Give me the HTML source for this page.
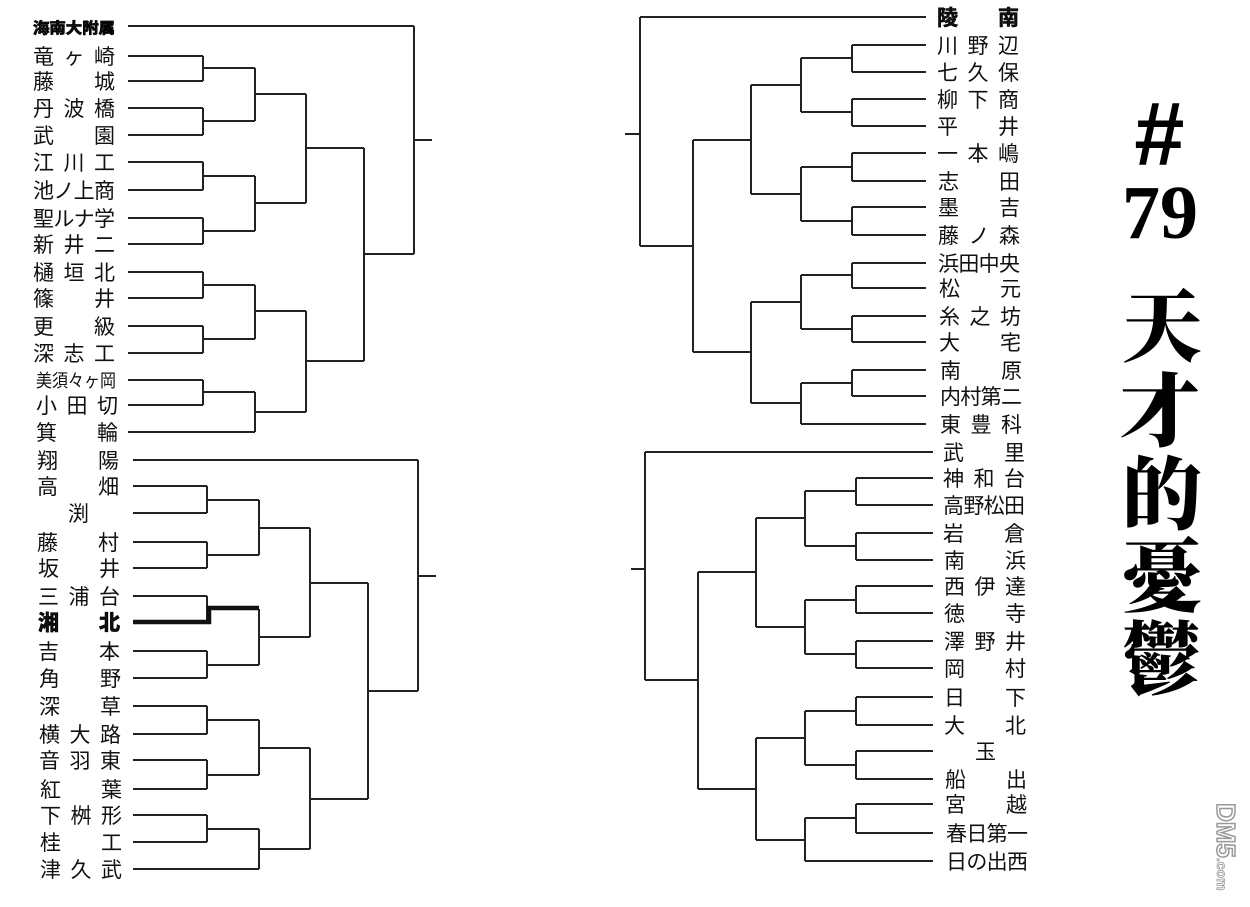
<!DOCTYPE html>
<html><head><meta charset="utf-8"><style>
html,body{margin:0;padding:0;background:#fff}
svg{display:block}
.n{font-family:"Liberation Sans","Noto Sans CJK JP",sans-serif;font-size:21px;fill:#111}
.t{font-family:"Liberation Serif","Noto Serif CJK SC",serif;font-weight:900;fill:#000}
</style></head><body>
<svg width="1250" height="907" viewBox="0 0 1250 907" xmlns="http://www.w3.org/2000/svg">
<rect width="1250" height="907" fill="#fff"/>
<g fill="none" stroke="#222" stroke-width="2">
<path d="M128 56H203M128 81H203M128 108H203M128 135H203M128 162H203M128 190H203M128 218H203M128 244H203M128 272H203M128 298H203M128 326H203M128 353H203M128 380H203M128 405H203M128 432H255M128 26H414
M203 56V81M203 68H255M203 108V135M203 121H255M203 162V190M203 176H255M203 218V244M203 231H255M203 272V298M203 285H255M203 326V353M203 339H255M203 380V405M203 392H255
M255 68V121M255 94H306M255 176V231M255 203H306M255 285V339M255 311H306M255 392V432M255 412H306
M306 94V203M306 148H364M306 311V412M306 361H364
M364 148V361M364 254H414M414 26V254M414 140H432"/>
<path d="M133 460H418M133 486H207M133 513H207M133 542H207M133 568H207M133 596H207M133 651H207M133 678H207M133 706H207M133 734H207M133 760H207M133 789H207M133 815H207M133 842H207M133 869H259
M207 486V513M207 500H259M207 542V568M207 555H259M207 596V622M207 651V678M207 665H259M207 706V734M207 720H259M207 760V789M207 775H259M207 815V842M207 829H259
M259 500V555M259 528H310M259 609V665M259 637H310M259 720V775M259 748H310M259 829V869M259 849H310
M310 528V637M310 583H368M310 748V849M310 799H368
M368 583V799M368 691H418M418 460V691M418 576H436"/>
<path d="M133 622H209V608H259" stroke-width="4.5" stroke="#111"/>
<path d="M926 17H640M926 45H852M926 72H852M926 99H852M926 126H852M926 153H852M926 181H852M926 207H852M926 235H852M926 263H852M926 288H852M926 316H852M926 342H852M926 370H852M926 396H852M926 424H801
M852 45V72M852 58H801M852 99V126M852 112H801M852 153V181M852 167H801M852 207V235M852 221H801M852 263V288M852 275H801M852 316V342M852 329H801M852 370V396M852 383H801
M801 58V112M801 85H751M801 167V221M801 194H751M801 275V329M801 302H751M801 383V424M801 403H751
M751 85V194M751 140H693M751 302V403M751 352H693
M693 140V352M693 246H640M640 17V246M640 134H625"/>
<path d="M933 452H645M933 478H856M933 505H856M933 533H856M933 560H856M933 586H856M933 613H856M933 641H856M933 668H856M933 697H856M933 725H856M933 751H856M933 779H856M933 804H856M933 833H856M933 861H805
M856 478V505M856 491H805M856 533V560M856 546H805M856 586V613M856 600H805M856 641V668M856 654H805M856 697V725M856 711H805M856 751V779M856 765H805M856 804V833M856 818H805
M805 491V546M805 518H756M805 600V654M805 627H756M805 711V765M805 738H756M805 818V861M805 840H756
M756 518V627M756 572H698M756 738V840M756 789H698
M698 572V789M698 680H645M645 452V680M645 569H631"/>
</g>
<g class="n">
<text x="33" y="33" font-size="15" font-weight="bold" textLength="82" lengthAdjust="spacingAndGlyphs" stroke="#000" stroke-width="0.8">海南大附属</text>
<text x="33" y="64" textLength="82" lengthAdjust="spacing">竜ヶ崎</text>
<text x="33" y="89" textLength="82" lengthAdjust="spacing">藤　城</text>
<text x="33" y="116" textLength="82" lengthAdjust="spacing">丹波橋</text>
<text x="33" y="143" textLength="82" lengthAdjust="spacing">武　園</text>
<text x="33" y="170" textLength="82" lengthAdjust="spacing">江川工</text>
<text x="33" y="198" textLength="82" lengthAdjust="spacing">池ノ上商</text>
<text x="33" y="226" textLength="82" lengthAdjust="spacing">聖ルナ学</text>
<text x="33" y="252" textLength="82" lengthAdjust="spacing">新井二</text>
<text x="33" y="280" textLength="82" lengthAdjust="spacing">樋垣北</text>
<text x="33" y="306" textLength="82" lengthAdjust="spacing">篠　井</text>
<text x="33" y="334" textLength="82" lengthAdjust="spacing">更　級</text>
<text x="33" y="361" textLength="82" lengthAdjust="spacing">深志工</text>
<text x="36" y="387" font-size="18" textLength="80" lengthAdjust="spacingAndGlyphs">美須々ヶ岡</text>
<text x="36" y="413" textLength="82" lengthAdjust="spacing">小田切</text>
<text x="36" y="440" textLength="82" lengthAdjust="spacing">箕　輪</text>

<text x="37" y="468" textLength="82" lengthAdjust="spacing">翔　陽</text>
<text x="37" y="494" textLength="82" lengthAdjust="spacing">高　畑</text>
<text x="68" y="521">渕</text>
<text x="37" y="550" textLength="82" lengthAdjust="spacing">藤　村</text>
<text x="38" y="576" textLength="82" lengthAdjust="spacing">坂　井</text>
<text x="38" y="604" textLength="82" lengthAdjust="spacing">三浦台</text>
<text x="38" y="630" textLength="82" lengthAdjust="spacing" font-weight="bold" stroke="#000" stroke-width="0.8">湘　北</text>
<text x="38" y="659" textLength="82" lengthAdjust="spacing">吉　本</text>
<text x="39" y="686" textLength="82" lengthAdjust="spacing">角　野</text>
<text x="39" y="714" textLength="82" lengthAdjust="spacing">深　草</text>
<text x="39" y="742" textLength="82" lengthAdjust="spacing">横大路</text>
<text x="39" y="768" textLength="82" lengthAdjust="spacing">音羽東</text>
<text x="40" y="797" textLength="82" lengthAdjust="spacing">紅　葉</text>
<text x="40" y="823" textLength="82" lengthAdjust="spacing">下桝形</text>
<text x="40" y="850" textLength="82" lengthAdjust="spacing">桂　工</text>
<text x="40" y="877" textLength="82" lengthAdjust="spacing">津久武</text>

<text x="937" y="25" textLength="82" lengthAdjust="spacing" font-weight="bold" stroke="#000" stroke-width="0.6">陵　南</text>
<text x="937" y="53" textLength="82" lengthAdjust="spacing">川野辺</text>
<text x="937" y="80" textLength="82" lengthAdjust="spacing">七久保</text>
<text x="937" y="107" textLength="82" lengthAdjust="spacing">柳下商</text>
<text x="937" y="134" textLength="82" lengthAdjust="spacing">平　井</text>
<text x="937" y="161" textLength="82" lengthAdjust="spacing">一本嶋</text>
<text x="938" y="189" textLength="82" lengthAdjust="spacing">志　田</text>
<text x="938" y="215" textLength="82" lengthAdjust="spacing">墨　吉</text>
<text x="938" y="243" textLength="82" lengthAdjust="spacing">藤ノ森</text>
<text x="938" y="271" textLength="82" lengthAdjust="spacing">浜田中央</text>
<text x="939" y="296" textLength="82" lengthAdjust="spacing">松　元</text>
<text x="939" y="324" textLength="82" lengthAdjust="spacing">糸之坊</text>
<text x="939" y="350" textLength="82" lengthAdjust="spacing">大　宅</text>
<text x="940" y="378" textLength="82" lengthAdjust="spacing">南　原</text>
<text x="940" y="404" textLength="82" lengthAdjust="spacing">内村第二</text>
<text x="940" y="432" textLength="82" lengthAdjust="spacing">東豊科</text>

<text x="943" y="460" textLength="82" lengthAdjust="spacing">武　里</text>
<text x="943" y="486" textLength="82" lengthAdjust="spacing">神和台</text>
<text x="943" y="513" textLength="82" lengthAdjust="spacing">高野松田</text>
<text x="943" y="541" textLength="82" lengthAdjust="spacing">岩　倉</text>
<text x="944" y="568" textLength="82" lengthAdjust="spacing">南　浜</text>
<text x="944" y="594" textLength="82" lengthAdjust="spacing">西伊達</text>
<text x="944" y="621" textLength="82" lengthAdjust="spacing">徳　寺</text>
<text x="944" y="649" textLength="82" lengthAdjust="spacing">澤野井</text>
<text x="944" y="676" textLength="82" lengthAdjust="spacing">岡　村</text>
<text x="944" y="705" textLength="82" lengthAdjust="spacing">日　下</text>
<text x="944" y="733" textLength="82" lengthAdjust="spacing">大　北</text>
<text x="975" y="759">玉</text>
<text x="945" y="787" textLength="82" lengthAdjust="spacing">船　出</text>
<text x="945" y="812" textLength="82" lengthAdjust="spacing">宮　越</text>
<text x="946" y="841" textLength="82" lengthAdjust="spacing">春日第一</text>
<text x="946" y="869" textLength="82" lengthAdjust="spacing">日の出西</text>
</g>
<g class="t" text-anchor="middle">
<text x="1158" y="165" font-size="90" font-family="Liberation Sans,sans-serif" font-weight="bold" font-style="italic">#</text>
<text x="1160" y="238" font-size="76" font-family="Liberation Serif,serif" font-weight="bold">79</text>
<text x="1162" y="355" font-size="80" font-family="Noto Serif CJK SC,serif">天</text>
<text x="1160" y="440" font-size="80" font-family="Noto Serif CJK SC,serif">才</text>
<text x="1162" y="523" font-size="80" font-family="Noto Serif CJK SC,serif">的</text>
<text x="1162" y="605" font-size="80" font-family="Noto Serif CJK SC,serif">憂</text>
<text x="1162" y="688" font-size="80" font-family="Noto Serif CJK SC,serif">鬱</text>
</g>
<text transform="translate(1217,803) rotate(90)" font-family="Liberation Sans,sans-serif" font-size="26" font-weight="bold" fill="none" stroke="#999" stroke-width="1.5">DM5<tspan font-size="14" stroke-width="0.8">.com</tspan></text>
</svg>
</body></html>
